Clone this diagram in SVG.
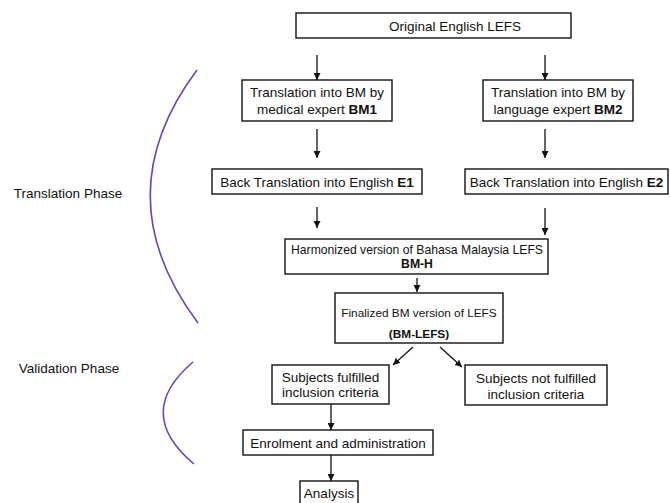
<svg xmlns="http://www.w3.org/2000/svg" width="670" height="503" viewBox="0 0 670 503">
<defs>
<style>
text{font-family:"Liberation Sans",Arial,sans-serif;font-size:13.5px;fill:#111;text-anchor:middle}
.b{font-weight:bold}
.s1{font-size:12.2px}
.s2{font-size:11.8px}
rect{fill:#fff;stroke:#111;stroke-width:1.4}
.c line{stroke:#111;stroke-width:1.3}
.ph{fill:none;stroke:#6a44b4;stroke-width:1.6}
</style>
<marker id="ah" viewBox="0 0 10 10" refX="10" refY="5" markerWidth="7" markerHeight="7" markerUnits="userSpaceOnUse" orient="auto">
<path d="M0,0 L10,5 L0,10 z" fill="#111"/>
</marker>
</defs>
<rect x="0" y="0" width="670" height="503" style="stroke:none"/>
<g id="phases">
<path class="ph" d="M197,70 Q103,196 198,323"/>
<path class="ph" d="M193,362 Q133,413 194,464"/>
<text x="68" y="198">Translation Phase</text>
<text x="69" y="373">Validation Phase</text>
</g>
<g class="c" id="connectors">
<line x1="317" y1="55" x2="317" y2="80" marker-end="url(#ah)"/>
<line x1="545" y1="55" x2="545" y2="80" marker-end="url(#ah)"/>
<line x1="317" y1="129" x2="317" y2="158" marker-end="url(#ah)"/>
<line x1="545" y1="129" x2="545" y2="158" marker-end="url(#ah)"/>
<line x1="317" y1="207" x2="317" y2="228" marker-end="url(#ah)"/>
<line x1="545" y1="208" x2="545" y2="235" marker-end="url(#ah)"/>
<line x1="417" y1="278" x2="417" y2="292" marker-end="url(#ah)"/>
<line x1="413" y1="347" x2="393" y2="365" marker-end="url(#ah)"/>
<line x1="440" y1="347" x2="462" y2="367" marker-end="url(#ah)"/>
<line x1="331" y1="404" x2="331" y2="430" marker-end="url(#ah)"/>
<line x1="331" y1="455" x2="331" y2="481" marker-end="url(#ah)"/>
</g>
<g id="orig"><rect x="296" y="13" width="275" height="25"/><text x="455" y="31">Original English LEFS</text></g>
<g id="bm1"><rect x="242" y="80" width="150" height="41"/><text x="317" y="97">Translation into BM by</text><text x="317" y="114">medical expert <tspan class="b">BM1</tspan></text></g>
<g id="bm2"><rect x="483" y="80" width="150" height="41"/><text x="558" y="97">Translation into BM by</text><text x="558" y="114">language expert <tspan class="b">BM2</tspan></text></g>
<g id="e1"><rect x="212" y="169" width="210" height="25"/><text x="317" y="186.5">Back Translation into English <tspan class="b">E1</tspan></text></g>
<g id="e2"><rect x="465" y="169" width="203" height="25"/><text x="566.5" y="186.5">Back Translation into English <tspan class="b">E2</tspan></text></g>
<g id="bmh"><rect x="285" y="239" width="263" height="35"/><text class="s1" x="417" y="253.5">Harmonized version of Bahasa Malaysia LEFS</text><text x="417" y="268" class="b s1">BM-H</text></g>
<g id="bmlefs"><rect x="335" y="293" width="168" height="50"/><text class="s2" x="419" y="317">Finalized BM version of LEFS</text><text x="419" y="338" class="b s2">(BM-LEFS)</text></g>
<g id="ful"><rect x="272" y="365" width="117" height="39"/><text x="330.5" y="381.5">Subjects fulfilled</text><text x="330.5" y="397">inclusion criteria</text></g>
<g id="notful"><rect x="465" y="365" width="142" height="40"/><text x="536" y="382.5">Subjects not fulfilled</text><text x="536" y="398.5">inclusion criteria</text></g>
<g id="enrol"><rect x="243" y="430" width="190" height="25"/><text x="338" y="447.5">Enrolment and administration</text></g>
<g id="analysis"><rect x="300" y="481" width="58" height="30"/><text x="329" y="498">Analysis</text></g>
</svg>
